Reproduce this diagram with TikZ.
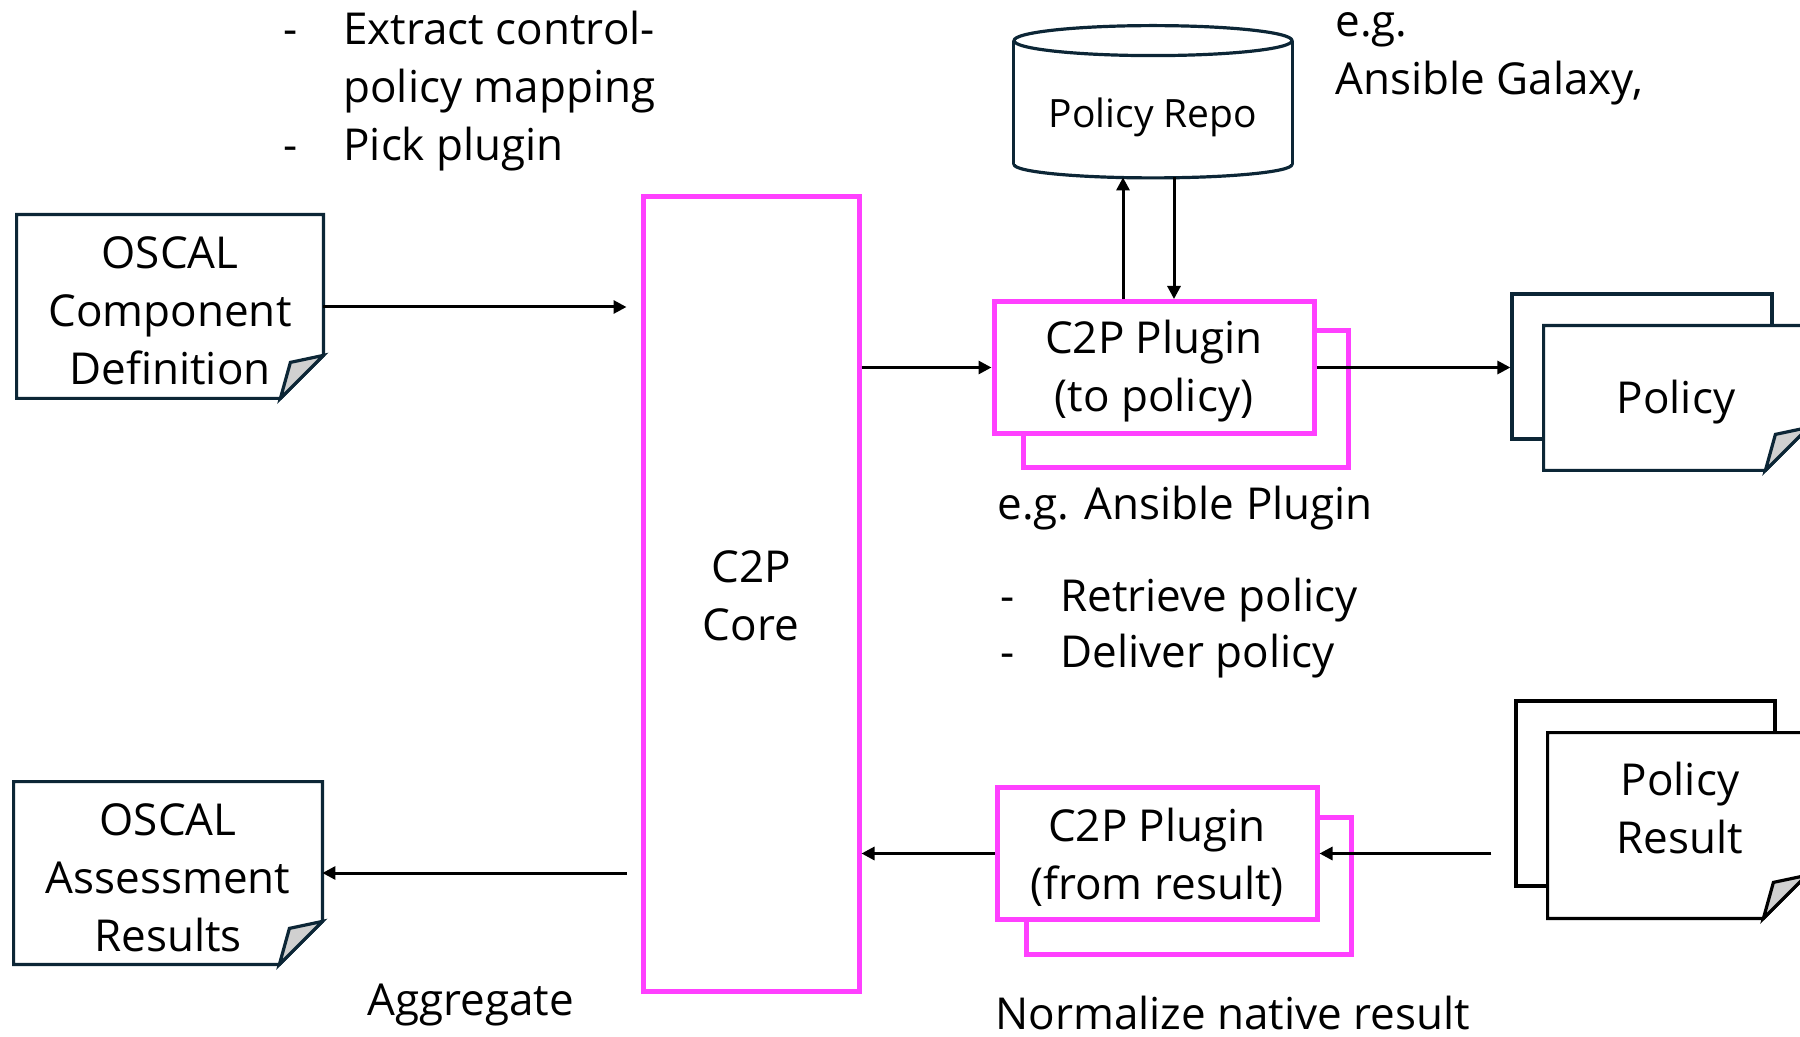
\documentclass[tikz,border=0pt]{standalone}
\usepackage{fontspec}
\setmainfont{Open Sans}
\usetikzlibrary{arrows.meta,backgrounds,calc}
\definecolor{navy}{HTML}{0C2636}
\definecolor{mag}{HTML}{FF40FF}
\definecolor{foldgray}{HTML}{D0D0D0}
\newcommand\mkfolddoc[2]{%
  \draw[draw=#2, line width=1.6pt, fill=white, line join=miter]
    (#1.north west) -- (#1.north east) -- ([yshift=21.5pt]#1.south east)
    -- ([xshift=-21.5pt]#1.south east) -- (#1.south west) -- cycle;
  \draw[draw=#2, line width=1.6pt, fill=foldgray, line join=miter]
    ([xshift=-21.5pt]#1.south east) -- ([xshift=-16.5pt,yshift=18pt]#1.south east)
    -- ([yshift=21.5pt]#1.south east) -- cycle;
}
\tikzset{
  lbl/.style={font=\fontsize{22}{29}\selectfont, inner sep=0pt, anchor=base west},
  nodetxt/.style={font=\fontsize{22}{29}\selectfont, align=center, inner sep=0pt},
  docbox/.style={draw=none, inner sep=0pt},
  plug/.style={draw=mag, line width=2.5pt, fill=white, inner sep=0pt, minimum width=160pt, minimum height=66pt},
  plugback/.style={draw=mag, line width=2.5pt},
  backdoc/.style={line width=1.6pt, inner sep=0pt},
  arr/.style={line width=1.5pt, -{Triangle[length=6.5pt,width=6.5pt]}},
}
\begin{document}
\begin{tikzpicture}[x=0.5pt,y=-0.5pt]
\useasboundingbox (0,0) rectangle (1800,1037);

% ---- shape nodes
\node[docbox, minimum width=153pt, minimum height=91.5pt] (ocd) at (170,306.5) {};
\node[docbox, minimum width=154pt, minimum height=91pt] (oar) at (168,873) {};
\node[draw=mag, line width=2.5pt, inner sep=0pt, minimum width=108pt, minimum height=397pt] (core) at (751,594) {};
\node[plug] (p1) at (1154,367.5) {};
\node[plug] (p2) at (1157,853.5) {};
\node[docbox, minimum width=139pt, minimum height=68pt] (repo) at (1153,109) {};
\node[docbox, minimum width=132pt, minimum height=72pt] (pol) at (1676,398) {};
\node[docbox, minimum width=129pt, minimum height=92.5pt] (pres) at (1677,825.5) {};

% ---- texts of the shapes
\node[nodetxt] (ocdt) at ([yshift=-2pt]ocd.center) {OSCAL\\Component\\Definition};
\node[nodetxt] (oart) at ([yshift=-2.25pt]oar.center) {OSCAL\\Assessment\\Results};
\node[nodetxt] (coret) at ([yshift=-1pt]core.center) {C2P\\Core};
\node[nodetxt] (p1t) at ([yshift=-2pt]p1.center) {C2P Plugin\\(to policy)};
\node[nodetxt] (p2t) at ([yshift=-1.75pt]p2.center) {C2P Plugin\\(from result)};
\node[nodetxt, font=\fontsize{19.5}{24}\selectfont] (repot) at ([yshift=-4pt]repo.center) {Policy Repo};
\node[nodetxt] (polt) at ([yshift=-2pt]pol.center) {Policy};
\node[nodetxt] (prest) at (1680,808) {Policy\\Result};

% ---- shapes behind the texts
\begin{pgfonlayer}{background}
  \mkfolddoc{ocd}{navy}
  \mkfolddoc{oar}{navy}
  \draw[plugback] ([shift={(32,32)}]p1.north west) rectangle ([shift={(32,32)}]p1.south east);
  \draw[plugback] ([shift={(32,32)}]p2.north west) rectangle ([shift={(32,32)}]p2.south east);
  \node[backdoc, draw=navy, minimum width=130pt, minimum height=72.5pt] (polb) at (1642,366.5) {};
  \mkfolddoc{pol}{navy}
  \node[backdoc, draw=black, minimum width=129.5pt, minimum height=92.5pt] (presb) at (1645.5,793.5) {};
  \mkfolddoc{pres}{black}
  % cylinder
  \draw[draw=navy, line width=1.6pt] (repo.north west) -- ([yshift=6.5pt]repo.south west);
  \draw[draw=navy, line width=1.6pt] (repo.north east) -- ([yshift=6.5pt]repo.south east);
  \draw[draw=navy, line width=1.6pt] (repo.north) ellipse [x radius=139, y radius=15];
  \begin{scope}
    \clip ([xshift=-5pt,yshift=6.5pt]repo.south west) rectangle ([xshift=5pt,yshift=-8pt]repo.south east);
    \draw[draw=navy, line width=1.6pt] ([yshift=6.5pt]repo.south) ellipse [x radius=139, y radius=13.5];
  \end{scope}
\end{pgfonlayer}

% ---- connectors
\draw[arr] (ocd.east |- 0,307) -- ([xshift=-7pt]core.west |- 0,307);
\draw[arr] (core.east |- p1.west) -- (p1.west);
\draw[arr] (p1.east) -- (p1.east -| polb.west);
\draw[arr] ([xshift=-15.5pt]p1.north) -- ([xshift=-15.5pt]p1.north |- repo.south);
\draw[arr] ([xshift=10pt]p1.north |- repo.south) -- ([xshift=10pt]p1.north);
\draw[arr] ([xshift=-11.5pt]presb.west |- p2.east) -- (p2.east);
\draw[arr] (p2.west) -- (p2.west -| core.east);
\draw[arr] ([xshift=-7pt]core.west |- oar.east) -- (oar.east);

% ---- free texts
\node[lbl] (d1) at (283,45) {-};
\node[lbl] (t1) at (343,45) {Extract control-};
\node[lbl] (t2) at (343,103) {policy mapping};
\node[lbl] (d2) at (283,161) {-};
\node[lbl] (t3) at (343,161) {Pick plugin};
\node[lbl] (eg1) at (1335,37) {e.g.};
\node[lbl] (eg2) at (1335,95) {Ansible Galaxy,};
\node[lbl] (eg3) at (997,520) {e.g. Ansible Plugin};
\node[lbl] (d3) at (1000,611) {-};
\node[lbl] (t4) at (1060,611) {Retrieve policy};
\node[lbl] (d4) at (1000,667) {-};
\node[lbl] (t5) at (1060,667) {Deliver policy};
\node[lbl] (agg) at (367,1015) {Aggregate};
\node[lbl] (norm) at (995,1029) {Normalize native result};
\end{tikzpicture}
\end{document}
